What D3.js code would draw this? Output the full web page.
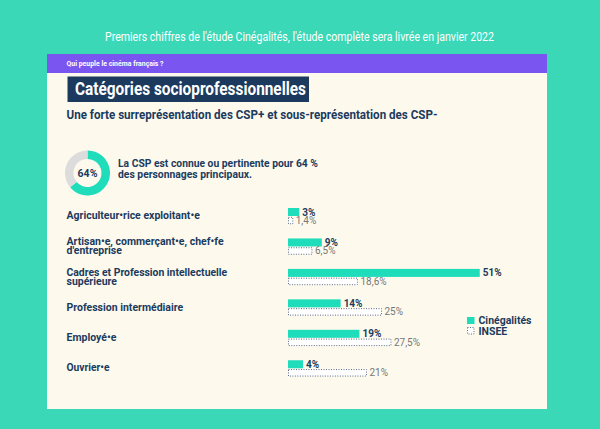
<!DOCTYPE html>
<html><head><meta charset="utf-8">
<script src="https://cdn.jsdelivr.net/npm/d3@7"></script>
<style>
html,body{margin:0;padding:0;background:#3bd8b7;}
svg{display:block;font-family:Roboto,"Noto Sans",sans-serif;}
</style></head>
<body>
<svg id="chart" width="600" height="429"></svg>
<script>
// ---- data ----
const headerText = "Premiers chiffres de l'étude Cinégalités, l'étude complète sera livrée en janvier 2022";
const sectionText = "Qui peuple le cinéma français ?";
const titleText = "Catégories socioprofessionnelles";
const subtitleText = "Une forte surreprésentation des CSP+ et sous-représentation des CSP-";
const donutValue = 64;
const donutLabel = "64%";
const donutTextLines = ["La CSP est connue ou pertinente pour 64 %", "des personnages principaux."];
const categories = [
  ["Agriculteur•rice exploitant•e"],
  ["Artisan•e, commerçant•e, chef•fe", "d'entreprise"],
  ["Cadres et Profession intellectuelle", "supérieure"],
  ["Profession intermédiaire"],
  ["Employé•e"],
  ["Ouvrier•e"]
];
const cineValues = [3, 9, 51, 14, 19, 4];
const inseeValues = [1.4, 6.5, 18.6, 25, 27.5, 21];
const cineLabels = ["3%", "9%", "51%", "14%", "19%", "4%"];
const inseeLabels = ["1,4%", "6,5%", "18,6%", "25%", "27,5%", "21%"];
const seriesNames = ["Cinégalités", "INSEE"];

// ---- style ----
const C = {bg:"#3bd8b7", panel:"#fdfaed", purple:"#7a55ef", navy:"#1c3a5e", teal:"#1fdcbb", grey:"#dcdcdc", insee:"#777777", dot:"#5a6b8e"};

const svg = d3.select("#chart");
function fit(sel, w){ sel.each(function(){ const n=this.getComputedTextLength(); if (Math.abs(n-w)>1) d3.select(this).attr("textLength", w).attr("lengthAdjust","spacingAndGlyphs"); }); return sel; }

svg.append("rect").attr("width",600).attr("height",429).attr("fill",C.bg);

// header
fit(svg.append("text").attr("x",105).attr("y",40.5).attr("fill","#ffffff").attr("font-size",12.5).attr("font-weight",400).text(headerText), 389);

// panel
svg.append("rect").attr("x",47).attr("y",54).attr("width",500).attr("height",355).attr("fill",C.panel);
svg.append("rect").attr("x",47).attr("y",54).attr("width",500).attr("height",19).attr("fill",C.purple);
fit(svg.append("text").attr("x",66.5).attr("y",66).attr("fill","#fff").attr("font-size",7.5).attr("font-weight",700).text(sectionText), 97);

// title box
svg.append("rect").attr("x",67.5).attr("y",76.5).attr("width",241.5).attr("height",25.5).attr("fill",C.navy);
fit(svg.append("text").attr("x",75).attr("y",95).attr("fill","#fff").attr("font-size",18).attr("font-weight",700).text(titleText), 231);

fit(svg.append("text").attr("x",66.5).attr("y",118.5).attr("fill",C.navy).attr("font-size",13).attr("font-weight",700).text(subtitleText), 371);

// donut
const pie = d3.pie().sort(null).startAngle(0).endAngle(2*Math.PI)([donutValue, 100-donutValue]);
const arc = d3.arc().innerRadius(14).outerRadius(22.5);
const dg = svg.append("g").attr("transform","translate(87.5,173)");
dg.selectAll("path").data(pie).join("path").attr("d",arc).attr("fill",(d,i)=> i===0?C.teal:C.grey);
fit(dg.append("text").attr("x",0).attr("y",3.8).attr("text-anchor","middle").attr("fill",C.navy).attr("font-size",10.5).attr("font-weight",700).text(donutLabel), 19);
const dtw = [200, 134];
donutTextLines.forEach((t,i)=>{
  fit(svg.append("text").attr("x",118).attr("y",167+i*11).attr("fill",C.navy).attr("font-size",11.5).attr("font-weight",700).text(t), dtw[i]);
});

// bars
const x = d3.scaleLinear().domain([0,100]).range([288, 288+376]);
const y = d3.scaleBand().domain(d3.range(categories.length)).range([208, 208+6*30.45]).paddingInner(0).paddingOuter(0);
const cineH = 8, inseeOff = 8.8, inseeH = 7.5;

const labelWidths = [[133],[157,55.7],[160.7,50.7],[116],[49],[43]];
const rows = svg.append("g").selectAll("g").data(categories).join("g");
rows.each(function(lines,i){
  const g = d3.select(this);
  const top = y(i);
  lines.forEach((t,j)=>{
    const base = lines.length===1 ? top+11.2 : top+7+j*9;
    fit(g.append("text").attr("x",66.5).attr("y",base).attr("fill",C.navy).attr("font-size",10.5).attr("font-weight",700).text(t), labelWidths[i][j]);
  });
  g.append("rect").attr("x",x(0)).attr("y",top).attr("width",x(cineValues[i])-x(0)).attr("height",cineH).attr("fill",C.teal);
  g.append("rect").attr("x",x(0)+0.5).attr("y",top+inseeOff+0.5).attr("width",x(inseeValues[i])-x(0)-1).attr("height",inseeH-1)
    .attr("fill","#ffffff").attr("stroke",C.dot).attr("stroke-width",1).attr("stroke-dasharray","1,1.5");
  g.append("text").attr("x",x(cineValues[i])+3).attr("y",top+cineH-0.5).attr("fill",C.navy).attr("font-size",10).attr("font-weight",700).text(cineLabels[i]);
  g.append("text").attr("x",x(inseeValues[i])+2.5).attr("y",top+inseeOff+inseeH-0.3).attr("fill",C.insee).attr("font-size",10).attr("font-weight",400).text(inseeLabels[i]);
});

// legend
const lg = svg.append("g").attr("transform","translate(467,317)");
lg.append("rect").attr("x",0).attr("y",0).attr("width",7.5).attr("height",7).attr("fill",C.teal);
lg.append("rect").attr("x",0.5).attr("y",10.5).attr("width",6.5).attr("height",6.5).attr("fill","#fff").attr("stroke",C.dot).attr("stroke-dasharray","1,1.5");
fit(lg.append("text").attr("x",11.5).attr("y",6.8).attr("fill",C.navy).attr("font-size",10.5).attr("font-weight",700).text(seriesNames[0]), 53);
fit(lg.append("text").attr("x",11.5).attr("y",17.5).attr("fill",C.navy).attr("font-size",10.5).attr("font-weight",700).text(seriesNames[1]), 29);
</script>
</body></html>
